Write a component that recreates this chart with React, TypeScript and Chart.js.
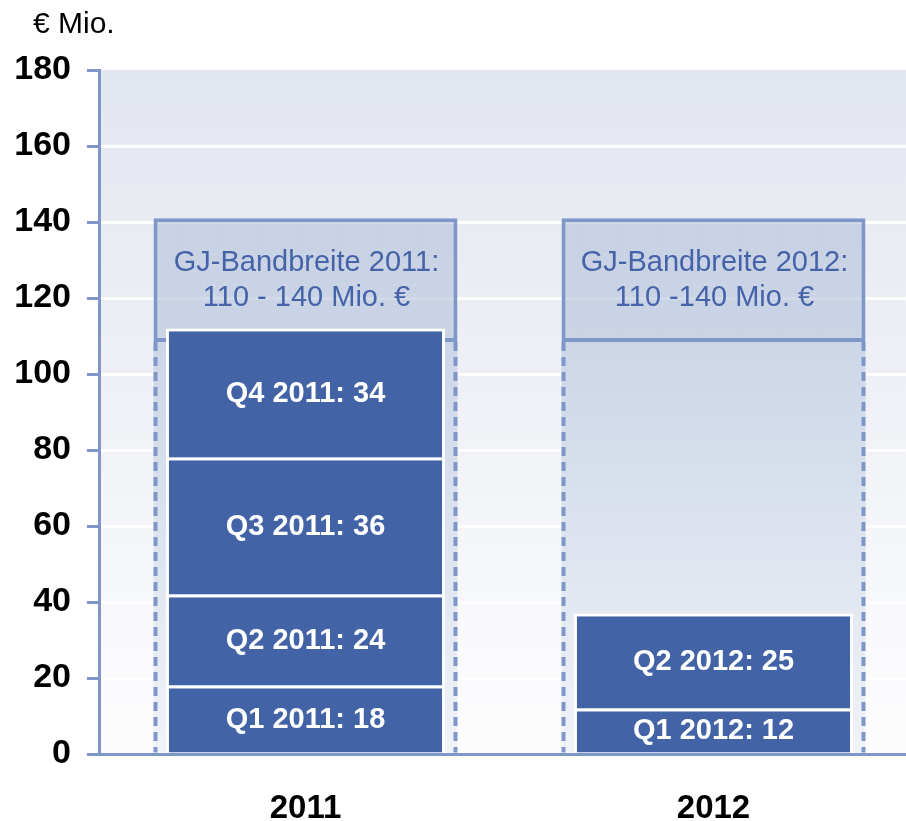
import React, { useEffect, useRef } from 'react';
import { Chart, registerables } from 'chart.js';

Chart.register(...registerables);

// ---- data ----
const years = ['2011', '2012'];
const quarterNames = ['Q1', 'Q2', 'Q3', 'Q4'];
const q1Values = [18, 12];
const q2Values = [24, 25];
const q3Values: (number | null)[] = [36, null];
const q4Values: (number | null)[] = [34, null];
const rangeLow = [108.4, 108.4];
const rangeHigh = [141, 141];
const rangeLine1 = ['GJ-Bandbreite 2011:', 'GJ-Bandbreite 2012:'];
const rangeLine2 = ['110 - 140 Mio. €', '110 -140 Mio. €'];
const yMin = 0;
const yMax = 180;
const yStep = 20;
const unitLabel = '€ Mio.';

// ---- styles ----
const FONT = "'Liberation Sans', Arial, sans-serif";
const BAR_BLUE = '#4263a6';
const AXIS_BLUE = '#7f97c8';
const TEXT_BLUE = '#4463a9';

const quarterSeries = [q1Values, q2Values, q3Values, q4Values];
const REGION_INDEX = 5;
const BOX_INDEX = 4;

function makeBoxPattern(): CanvasPattern | string {
  const c = document.createElement('canvas');
  c.width = 10;
  c.height = 10;
  const g = c.getContext('2d');
  if (!g) return 'rgba(180,194,219,0.6)';
  g.fillStyle = 'rgba(180,194,219,0.6)';
  g.fillRect(0, 0, 10, 10);
  g.fillStyle = 'rgba(255,255,255,0.45)';
  g.fillRect(4, 4, 1, 1);
  const p = g.createPattern(c, 'repeat');
  return p || 'rgba(180,194,219,0.6)';
}

const customPlugin = {
  id: 'customDecor',
  beforeDraw(chart: any) {
    const { ctx, chartArea } = chart;
    if (!chartArea) return;
    const grad = ctx.createLinearGradient(0, chartArea.top, 0, chartArea.bottom);
    grad.addColorStop(0, '#e2e6ef');
    grad.addColorStop(1, '#fdfdfe');
    ctx.save();
    ctx.fillStyle = grad;
    ctx.fillRect(chartArea.left, chartArea.top, chartArea.right - chartArea.left, chartArea.bottom - chartArea.top);
    ctx.restore();
  },
  afterDatasetDraw(chart: any, args: any) {
    if (args.index !== REGION_INDEX) return;
    const { ctx } = chart;
    const meta = chart.getDatasetMeta(REGION_INDEX);
    ctx.save();
    ctx.strokeStyle = AXIS_BLUE;
    ctx.lineWidth = 4;
    ctx.setLineDash([9, 6]);
    meta.data.forEach((el: any) => {
      const { x, y, base, width } = el.getProps(['x', 'y', 'base', 'width'], true);
      const left = x - width / 2 + 2;
      const right = x + width / 2 - 2;
      const top = Math.min(y, base);
      const bottom = Math.max(y, base);
      ctx.beginPath();
      ctx.moveTo(left, top);
      ctx.lineTo(left, bottom);
      ctx.moveTo(right, top);
      ctx.lineTo(right, bottom);
      ctx.stroke();
    });
    ctx.restore();
  },
  afterDatasetsDraw(chart: any) {
    const { ctx } = chart;
    ctx.save();
    ctx.textAlign = 'center';
    ctx.textBaseline = 'middle';
    // quarter labels
    ctx.fillStyle = '#ffffff';
    ctx.font = `bold 29px ${FONT}`;
    quarterSeries.forEach((series, d) => {
      const meta = chart.getDatasetMeta(d);
      series.forEach((v, i) => {
        if (v === null || v === undefined) return;
        const el: any = meta.data[i];
        if (!el) return;
        const { x, y, base } = el.getProps(['x', 'y', 'base'], true);
        ctx.fillText(`${quarterNames[d]} ${years[i]}: ${v}`, x, (y + base) / 2 + 1);
      });
    });
    // range box text
    ctx.fillStyle = TEXT_BLUE;
    ctx.font = `29px ${FONT}`;
    const boxMeta = chart.getDatasetMeta(BOX_INDEX);
    boxMeta.data.forEach((el: any, i: number) => {
      const { x, y, base } = el.getProps(['x', 'y', 'base'], true);
      const cy = (y + base) / 2;
      ctx.fillText(rangeLine1[i], x + 1, cy - 17);
      ctx.fillText(rangeLine2[i], x + 1, cy + 18);
    });
    ctx.restore();
  },
  afterDraw(chart: any) {
    const { ctx } = chart;
    ctx.save();
    ctx.fillStyle = '#000000';
    ctx.font = `30px ${FONT}`;
    ctx.textAlign = 'left';
    ctx.textBaseline = 'alphabetic';
    ctx.fillText(unitLabel, 33, 33);
    ctx.restore();
  },
};

export default function App() {
  const canvasRef = useRef<HTMLCanvasElement | null>(null);

  useEffect(() => {
    const canvas = canvasRef.current;
    if (!canvas) return;

    const boxPattern = makeBoxPattern();

    const quarterDatasets = quarterSeries.map((series, d) => ({
      label: quarterNames[d],
      data: series.map((v, i) => ({ x: i, y: v })),
      backgroundColor: BAR_BLUE,
      borderColor: '#ffffff',
      borderWidth: 3,
      borderSkipped: 'start',
      barPercentage: 0.684,
      categoryPercentage: 1,
      grouped: false,
      stack: 'quarters',
    }));

    const boxDataset = {
      label: 'Bandbreite',
      data: rangeLow.map((lo, i) => ({ x: i, y: [lo, rangeHigh[i]] })),
      backgroundColor: boxPattern,
      borderColor: AXIS_BLUE,
      borderWidth: 4,
      borderSkipped: false,
      barPercentage: 0.745,
      categoryPercentage: 1,
      grouped: false,
      stack: 'box',
    };

    const regionDataset = {
      label: 'Bereich',
      data: rangeLow.map((lo, i) => ({ x: i, y: [yMin, lo] })),
      backgroundColor: (c: any) => {
        const chart = c.chart;
        const area = chart.chartArea;
        if (!area) return 'rgba(208,217,232,0.8)';
        const yScale = chart.scales.y;
        const top = yScale.getPixelForValue(rangeLow[0]);
        const bottom = yScale.getPixelForValue(yMin);
        const g = chart.ctx.createLinearGradient(0, top, 0, bottom);
        g.addColorStop(0, 'rgba(204,214,231,1)');
        g.addColorStop(1, 'rgba(240,243,248,1)');
        return g;
      },
      borderWidth: 0,
      barPercentage: 0.745,
      categoryPercentage: 1,
      grouped: false,
      stack: 'region',
    };

    const chart = new Chart(canvas, {
      type: 'bar',
      data: {
        datasets: [...quarterDatasets, boxDataset, regionDataset] as any,
      },
      options: {
        animation: false,
        responsive: false,
        devicePixelRatio: 1,
        layout: { padding: { top: 70, left: 0, right: 0, bottom: 0 } },
        plugins: {
          legend: { display: false },
          tooltip: { enabled: false },
          title: { display: false },
        },
        scales: {
          x: {
            type: 'linear',
            min: -0.5061,
            max: 1.4718,
            offset: false,
            afterBuildTicks: (scale: any) => {
              scale.ticks = years.map((_, i) => ({ value: i }));
            },
            afterFit: (scale: any) => {
              scale.height = 67;
            },
            grid: { display: false, offset: false },
            border: { display: true, color: AXIS_BLUE, width: 3 },
            ticks: {
              autoSkip: false,
              maxRotation: 0,
              padding: 27,
              color: '#000000',
              font: { family: FONT, size: 33, weight: 'bold' },
              callback: (value: any) => years[Math.round(Number(value))] ?? '',
            },
          },
          y: {
            type: 'linear',
            stacked: true,
            min: yMin,
            max: yMax,
            afterFit: (scale: any) => {
              scale.width = 99;
            },
            ticks: {
              stepSize: yStep,
              padding: 16,
              color: '#000000',
              font: { family: FONT, size: 34, weight: 'bold' },
            },
            grid: {
              color: (c: any) =>
                c.tick && (c.tick.value === yMin || c.tick.value === yMax) ? 'rgba(255,255,255,0)' : '#ffffff',
              tickColor: AXIS_BLUE,
              lineWidth: 3,
              tickLength: 12,
              drawTicks: true,
            },
            border: { display: true, color: AXIS_BLUE, width: 3 },
          },
        },
      } as any,
      plugins: [customPlugin],
    });

    return () => {
      chart.destroy();
    };
  }, []);

  return (
    <div style={{ position: 'absolute', left: 0, top: 0, width: 906, height: 821, background: '#ffffff' }}>
      <canvas ref={canvasRef} width={906} height={821} style={{ display: 'block', width: 906, height: 821 }} />
    </div>
  );
}
